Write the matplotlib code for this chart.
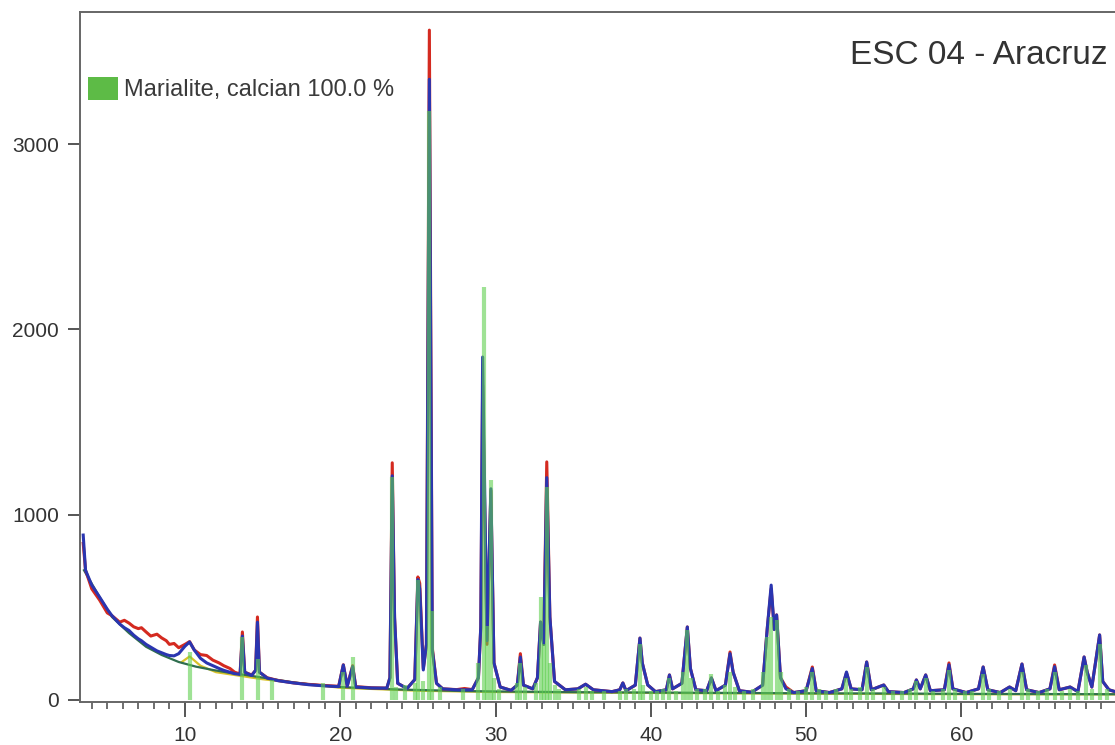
import matplotlib.pyplot as plt
from matplotlib.patches import Patch
from matplotlib.ticker import MultipleLocator

plt.rcParams['font.family'] = ['Liberation Sans', 'DejaVu Sans']

# 2theta positions of the measured / calculated profile
two_theta = [3.45, 3.6, 4.0, 4.5, 5.0, 5.3, 5.8, 6.1, 6.4, 6.7, 7.0, 7.2, 7.5, 7.8, 8.0, 8.2,
             8.5, 8.8, 9.0, 9.3, 9.6, 10.0, 10.3, 10.6, 11.0, 11.4, 11.8, 12.2, 12.5, 12.9, 13.2, 13.55,
             13.7, 13.85, 14.3, 14.55, 14.67, 14.8, 15.3, 16.0, 17.0, 18.0, 19.0, 19.9, 20.2, 20.45,
             20.8, 21.0, 22.0, 23.0, 23.2, 23.35, 23.5, 23.7, 24.3, 24.8, 25.0, 25.12, 25.35, 25.55,
             25.74, 25.93, 26.2, 26.6, 27.5, 28.0, 28.5, 28.9, 29.05, 29.17, 29.45, 29.7, 29.9, 30.3,
             31.0, 31.4, 31.6, 31.8, 32.4, 32.7, 32.9, 33.1, 33.3, 33.5, 33.8, 34.5, 35.3, 35.8,
             36.3, 37.5, 38.0, 38.2, 38.4, 39.0, 39.3, 39.45, 39.8, 40.3, 41.0, 41.2, 41.4, 42.0,
             42.35, 42.55, 42.9, 43.6, 43.9, 44.2, 44.8, 45.1, 45.3, 45.7, 46.5, 47.2, 47.5, 47.75,
             47.95, 48.1, 48.35, 48.7, 49.2, 50.0, 50.4, 50.65, 51.5, 52.3, 52.6, 52.9, 53.6, 53.9,
             54.2, 55.0, 55.3, 56.3, 56.9, 57.1, 57.35, 57.7, 58.0, 58.9, 59.2, 59.45, 60.3, 61.1,
             61.4, 61.7, 62.5, 63.1, 63.5, 63.9, 64.2, 65.0, 65.7, 66.0, 66.3, 67.0, 67.5, 67.9,
             68.1, 68.4, 68.9, 69.1, 69.5, 69.9]

observed = [845, 700, 600, 540, 470, 455, 420, 430, 415, 395, 385, 390, 367, 345, 350, 355,
            335, 320, 300, 305, 282, 300, 315, 270, 245, 240, 215, 200, 185, 170, 150, 140,
            367, 150, 135, 160, 448, 150, 120, 105, 92, 84, 78, 74, 190, 75,
            185, 72, 66, 64, 120, 1280, 440, 90, 62, 110, 664, 630, 170, 300,
            3615, 280, 90, 60, 56, 62, 56, 120, 390, 1700, 300, 1130, 200, 70,
            52, 80, 250, 80, 60, 120, 420, 300, 1285, 448, 100, 55, 60, 85,
            55, 45, 55, 92, 50, 80, 334, 200, 81, 45, 55, 135, 60, 90,
            394, 170, 55, 50, 119, 50, 80, 259, 150, 50, 42, 80, 388, 600,
            380, 459, 120, 70, 40, 50, 178, 50, 40, 60, 146, 60, 55, 205,
            55, 81, 45, 40, 60, 108, 60, 135, 50, 55, 200, 60, 40, 60,
            178, 55, 40, 70, 50, 194, 55, 40, 60, 189, 55, 70, 45, 232,
            150, 70, 351, 100, 55, 45]

calculated = [890, 700, 620, 556, 490, 455, 410, 390, 375, 350, 330, 320, 300, 285, 275, 265,
              255, 245, 240, 238, 250, 290, 313, 270, 225, 200, 185, 170, 160, 150, 142, 138,
              345, 150, 132, 160, 420, 150, 118, 104, 92, 82, 76, 72, 189, 74,
              180, 70, 65, 64, 120, 1210, 448, 90, 62, 110, 650, 600, 162, 300,
              3350, 270, 90, 60, 55, 55, 55, 120, 394, 1851, 320, 1140, 200, 70,
              52, 80, 232, 80, 60, 120, 421, 300, 1200, 448, 100, 55, 60, 85,
              55, 45, 55, 92, 50, 80, 334, 200, 81, 45, 55, 135, 60, 90,
              394, 170, 55, 50, 119, 50, 80, 250, 150, 50, 42, 80, 388, 620,
              380, 459, 120, 60, 40, 50, 170, 50, 40, 60, 151, 60, 55, 205,
              55, 81, 45, 40, 60, 108, 60, 135, 50, 55, 190, 60, 40, 60,
              178, 55, 40, 70, 50, 194, 55, 40, 60, 180, 55, 70, 45, 232,
              150, 70, 351, 100, 55, 45]

# background curves
bg_x = [3.5, 4.5, 5.3, 6.4, 7.5, 8.5, 9.6, 10.7, 11.8, 12.9, 13.9, 15.6, 17, 18, 20, 22,
        24, 26, 28, 30, 35, 40, 45, 50, 55, 60, 65, 70]
bg_y = [700, 556, 448, 361, 287, 243, 205, 180, 162, 146, 135, 113, 95, 85, 70, 62,
        56, 52, 48, 46, 42, 40, 38, 36, 35, 33, 32, 31]
base_x = [9.8, 10.3, 11.0, 12.0, 15.0, 20.0, 25.0, 30.0, 40.0, 50.0, 60.0, 70.0]
base_y = [205, 235, 185, 150, 112, 66, 50, 43, 38, 34, 31, 30]

# Marialite, calcian reference sticks
stick_pos = [10.3, 13.7, 14.7, 15.6, 18.9, 20.2, 20.8, 23.35, 23.6, 24.2, 24.8, 25.0, 25.3,
             25.74, 25.93, 26.4, 27.9, 28.9, 29.28, 29.45, 29.7, 29.9, 30.2, 31.4, 31.6, 31.9,
             32.6, 32.9, 33.1, 33.3, 33.5, 33.8, 34.1, 35.4, 35.8, 36.2, 37.0, 38.0, 38.4, 38.9,
             39.3, 39.5, 40.0, 40.4, 40.8, 41.2, 41.6, 42.1, 42.35, 42.6, 43.0, 43.5, 43.9, 44.3,
             44.8, 45.1, 45.4, 46.0, 46.6, 47.2, 47.5, 47.75, 48.1, 48.4, 48.9, 49.5, 50.0, 50.4,
             50.8, 51.3, 51.9, 52.6, 52.9, 53.5, 53.9, 54.3, 55.0, 55.6, 56.2, 56.7, 57.1, 57.7,
             58.2, 58.8, 59.2, 59.6, 60.2, 60.7, 61.4, 61.8, 62.4, 63.1, 63.9, 64.3, 64.9, 65.5,
             66.0, 66.5, 67.0, 67.5, 68.0, 68.4, 68.9, 69.4]
stick_int = [260, 340, 220, 110, 90, 150, 232, 1204, 70, 80, 90, 650, 100,
             3180, 480, 70, 60, 200, 2229, 400, 1187, 120, 60, 90, 200, 70,
             90, 556, 300, 1150, 200, 80, 60, 60, 70, 50, 50, 50, 60, 60,
             300, 80, 50, 50, 60, 120, 50, 150, 380, 120, 60, 60, 140, 50,
             80, 150, 70, 50, 60, 150, 340, 450, 430, 150, 60, 50, 70, 150,
             60, 50, 60, 120, 60, 70, 180, 60, 70, 50, 50, 60, 100, 120,
             50, 60, 160, 60, 50, 50, 140, 60, 50, 60, 150, 60, 50, 60,
             150, 50, 60, 50, 190, 60, 300, 60]

legend_label = 'Marialite, calcian 100.0 %'
title = 'ESC 04 - Aracruz'

fig = plt.figure(figsize=(11.15, 7.45), dpi=100)
ax = fig.add_axes([0.0717, 0.0577, 0.9283, 0.9262])

ax.plot(base_x, base_y, color='#d8c22a', lw=1.6, zorder=1)
ax.plot(bg_x, bg_y, color='#2f6e4e', lw=1.6, zorder=2)
ax.plot(two_theta, observed, color='#d42a20', lw=2.2, zorder=3)
ax.plot(two_theta, calculated, color='#2a35b0', lw=2.2, zorder=4)
ax.vlines(stick_pos, 0, stick_int, color='#5fcf4f', lw=3, alpha=0.6, zorder=5)

ax.set_xlim(3.24, 69.89)
ax.set_ylim(-11, 3713)
ax.xaxis.set_major_locator(MultipleLocator(10))
ax.xaxis.set_minor_locator(MultipleLocator(1))
ax.set_yticks([0, 1000, 2000, 3000])

for side in ['left', 'bottom', 'top']:
    ax.spines[side].set_color('#666666')
    ax.spines[side].set_linewidth(1.4)
ax.spines['right'].set_visible(False)
ax.tick_params(axis='both', which='major', labelsize=15, labelcolor='#333333', color='#555555',
               width=1.4, pad=6)
ax.tick_params(axis='y', which='major', length=9)
ax.tick_params(axis='x', which='major', length=11)
ax.tick_params(axis='x', which='minor', length=5, width=1.2, color='#555555')

ax.legend(handles=[Patch(facecolor='#5dbb46', edgecolor='none', label=legend_label)],
          loc='upper left', bbox_to_anchor=(0.0077, 0.906), frameon=False, fontsize=17,
          handlelength=1.27, handleheight=1.1, handletextpad=0.25, borderpad=0,
          borderaxespad=0, labelcolor='#3a3a3a')

fig.text(0.993, 0.926, title, ha='right', va='center', fontsize=24, color='#333333')

fig.savefig('out.png', dpi=100)
